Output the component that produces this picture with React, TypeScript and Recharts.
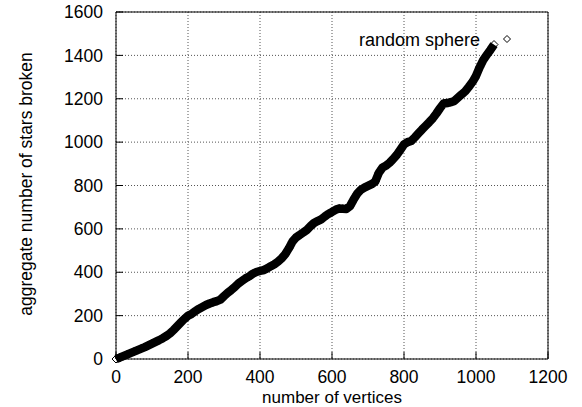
import {
  ComposedChart,
  Line,
  Scatter,
  XAxis,
  YAxis,
  CartesianGrid,
  Legend,
} from "recharts";

const vertices = [
  0, 10, 20, 30, 40, 50, 60, 70, 80, 90, 100, 110, 120, 130, 140, 150, 160,
  170, 180, 190, 200, 210, 220, 230, 240, 250, 260, 270, 280, 290, 300, 310,
  320, 330, 340, 350, 360, 370, 380, 390, 400, 410, 420, 430, 440, 450, 460,
  470, 480, 490, 500, 510, 520, 530, 540, 550, 560, 570, 580, 590, 600, 610,
  620, 630, 640, 650, 660, 670, 680, 690, 700, 710, 720, 730, 740, 750, 760,
  770, 780, 790, 800, 810, 820, 830, 840, 850, 860, 870, 880, 890, 900, 910,
  920, 930, 940, 950, 960, 970, 980, 990, 1000, 1010, 1020, 1030, 1040, 1050,
];

const starsBroken = [
  0, 6, 13, 20, 27, 34, 41, 48, 55, 63, 71, 79, 87, 96, 106, 118, 134, 151,
  168, 185, 199, 208, 220, 231, 240, 249, 256, 262, 267, 274, 290, 305, 318,
  332, 348, 360, 372, 381, 393, 401, 406, 410, 418, 428, 437, 449, 464, 483,
  510, 541, 560, 572, 583, 595, 612, 627, 636, 644, 657, 669, 678, 688, 694,
  693, 692, 705, 735, 762, 780, 790, 798, 806, 818, 858, 882, 892, 905, 922,
  941, 965, 990, 1000, 1005, 1022, 1040, 1058, 1075, 1092, 1110, 1132, 1156,
  1178, 1180, 1184, 1190, 1205, 1220, 1234, 1255, 1277, 1305, 1345, 1378,
  1402, 1425, 1450,
];

const xTicks = [0, 200, 400, 600, 800, 1000, 1200];
const yTicks = [0, 200, 400, 600, 800, 1000, 1200, 1400, 1600];
const seriesName = "random sphere";

const data = vertices.map((v, i) => ({ v, s: starsBroken[i] }));

const font = "'Liberation Sans', Arial, Helvetica, sans-serif";
const tickStyle = { fontSize: 17.5, fill: "#000", fontFamily: font };

function Diamond(props: any) {
  const { cx, cy } = props;
  if (cx == null || cy == null) return null;
  const r = 4;
  return (
    <path
      d={`M${cx},${cy - r}L${cx + r},${cy}L${cx},${cy + r}L${cx - r},${cy}Z`}
      fill="none"
      stroke="#000"
      strokeWidth={1}
    />
  );
}

function LegendKey() {
  return (
    <div style={{ position: "relative", width: 160, height: 20, fontFamily: font, fontSize: 18, color: "#000" }}>
      <span style={{ position: "absolute", left: 0, top: 0, lineHeight: "20px", whiteSpace: "nowrap" }}>
        {seriesName}
      </span>
      <svg width={12} height={12} style={{ position: "absolute", left: 142, top: 3 }}>
        <path d="M6,2.5L9.5,6L6,9.5L2.5,6Z" fill="none" stroke="#000" strokeWidth={1} />
      </svg>
    </div>
  );
}

function YLabel() {
  return (
    <text
      x={26}
      y={184}
      transform="rotate(-90 26 184)"
      textAnchor="middle"
      dominantBaseline="central"
      fontSize={17.5}
      fontFamily={font}
      fill="#000"
    >
      aggregate number of stars broken
    </text>
  );
}

export default function App() {
  return (
    <div style={{ width: 582, height: 407, background: "#fff" }}>
      <style>{"body{margin:0}"}</style>
      <ComposedChart
        width={582}
        height={407}
        data={data}
        margin={{ top: 0, right: 0, bottom: 0, left: 0 }}
      >
        <CartesianGrid stroke="#555" strokeDasharray="1 2" />

        <XAxis
          dataKey="v"
          type="number"
          domain={[0, 1200]}
          ticks={xTicks}
          height={48}
          tickSize={-7}
          tickMargin={19}
          tick={tickStyle}
          axisLine={{ stroke: "#000" }}
          tickLine={{ stroke: "#000" }}
          label={{
            value: "number of vertices",
            position: "insideBottom",
            offset: 4,
            fontSize: 17,
            fontFamily: font,
            fill: "#000",
          }}
        />
        <XAxis
          xAxisId="top"
          orientation="top"
          dataKey="v"
          type="number"
          domain={[0, 1200]}
          ticks={xTicks}
          height={12}
          tickSize={-7}
          tick={false}
          axisLine={{ stroke: "#000" }}
          tickLine={{ stroke: "#000" }}
        />

        <YAxis
          dataKey="s"
          type="number"
          domain={[0, 1600]}
          ticks={yTicks}
          width={116}
          tickSize={-7}
          tickMargin={20}
          tick={tickStyle}
          axisLine={{ stroke: "#000" }}
          tickLine={{ stroke: "#000" }}
          label={{ content: () => <YLabel /> }}
        />
        <YAxis
          yAxisId="right"
          orientation="right"
          dataKey="s"
          type="number"
          domain={[0, 1600]}
          ticks={yTicks}
          width={34}
          tickSize={-7}
          tick={false}
          axisLine={{ stroke: "#000" }}
          tickLine={{ stroke: "#000" }}
        />

        <Legend
          layout="horizontal"
          verticalAlign="middle"
          align="center"
          content={() => <LegendKey />}
          wrapperStyle={{ top: 30, left: 359, width: 160 }}
        />

        <Line
          dataKey="s"
          stroke="#000"
          strokeWidth={8.5}
          strokeLinejoin="round"
          dot={false}
          activeDot={false}
          legendType="none"
          isAnimationActive={false}
        />
        <Scatter
          name={seriesName}
          dataKey="s"
          shape={<Diamond />}
          isAnimationActive={false}
        />
      </ComposedChart>
    </div>
  );
}
